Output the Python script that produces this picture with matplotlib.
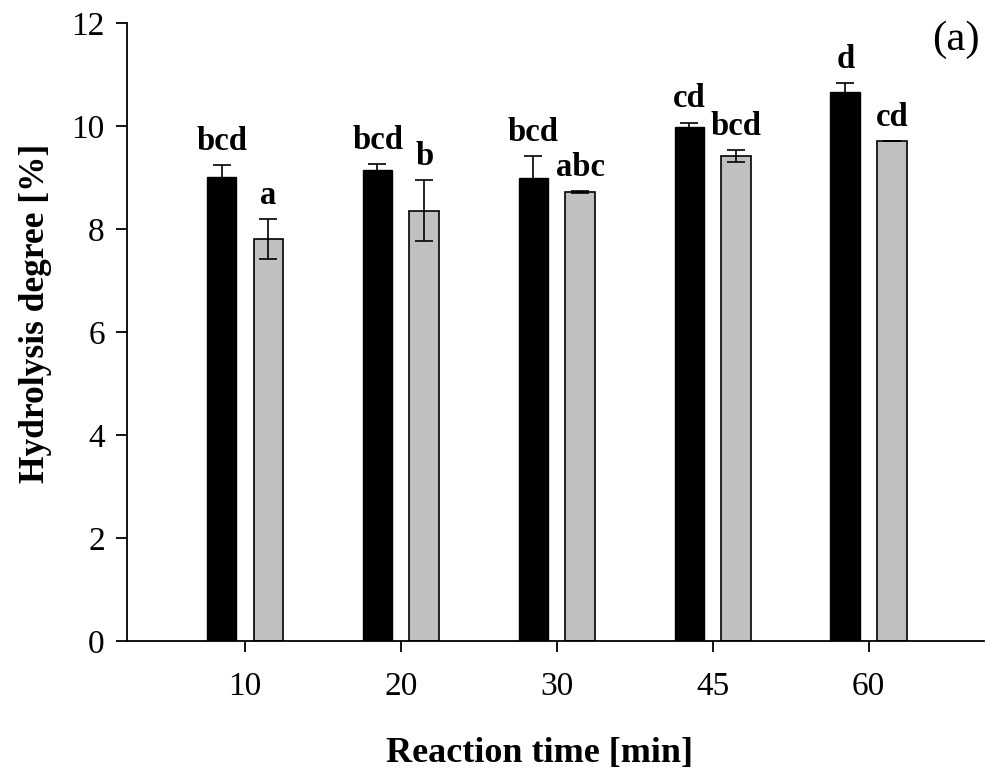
import matplotlib.pyplot as plt
import numpy as np

times = ["10", "20", "30", "45", "60"]
blackVals = [9.02, 9.15, 8.99, 9.99, 10.67]
blackErr = [0.22, 0.11, 0.43, 0.08, 0.16]
grayVals = [7.80, 8.36, 8.72, 9.42, 9.71]
grayErr = [0.39, 0.59, 0.02, 0.11, 0.0]
blackLetters = ["bcd", "bcd", "bcd", "cd", "d"]
grayLetters = ["a", "b", "abc", "bcd", "cd"]

plt.rcParams["font.family"] = "Liberation Serif"

fig = plt.figure(figsize=(9.85, 7.74), dpi=100)
ax = fig.add_axes([0.129, 0.172, 0.870, 0.798])

x = np.arange(len(times))
offset = 0.15
width = 0.19

ax.bar(x - offset, blackVals, width, color="black", edgecolor="black", linewidth=1, zorder=2)
ax.bar(x + offset, grayVals, width, color="#c0c0c0", edgecolor="black", linewidth=1.2, zorder=2)
ax.errorbar(x - offset, blackVals, yerr=blackErr, fmt="none", ecolor="black",
            elinewidth=1.2, capsize=6.5, capthick=1.2, zorder=3)
ax.errorbar(x + offset, grayVals, yerr=grayErr, fmt="none", ecolor="black",
            elinewidth=1.2, capsize=6.5, capthick=1.2, zorder=3)

for xi, v, e, lab in zip(x - offset, blackVals, blackErr, blackLetters):
    ax.annotate(lab, (xi, v + e), xytext=(0, 6), textcoords="offset points",
                ha="center", va="bottom", fontsize=23.5, fontweight="bold")
for xi, v, e, lab in zip(x + offset, grayVals, grayErr, grayLetters):
    ax.annotate(lab, (xi, v + e), xytext=(0, 6), textcoords="offset points",
                ha="center", va="bottom", fontsize=23.5, fontweight="bold")

ax.set_xlim(-0.756, 4.74)
ax.set_ylim(0, 12)
ax.set_xticks(x)
ax.set_xticklabels(times)
ax.set_yticks(np.arange(0, 13, 2))

ax.spines["top"].set_visible(False)
ax.spines["right"].set_visible(False)
for s in ["left", "bottom"]:
    ax.spines[s].set_linewidth(1.3)
ax.tick_params(direction="out", length=8, width=1.3, labelsize=24)
ax.tick_params(axis="x", pad=14)
ax.tick_params(axis="y", pad=8)

ax.set_xlabel("Reaction time [min]", fontsize=26, fontweight="bold")
ax.set_ylabel("Hydrolysis degree [%]", fontsize=25.5, fontweight="bold")
ax.xaxis.set_label_coords(0.481, -0.155)
ax.yaxis.set_label_coords(-0.088, 0.531)

ax.text(0.995, 1.005, "(a)", transform=ax.transAxes, ha="right", va="top", fontsize=31)

fig.savefig("out.png", dpi=100)
